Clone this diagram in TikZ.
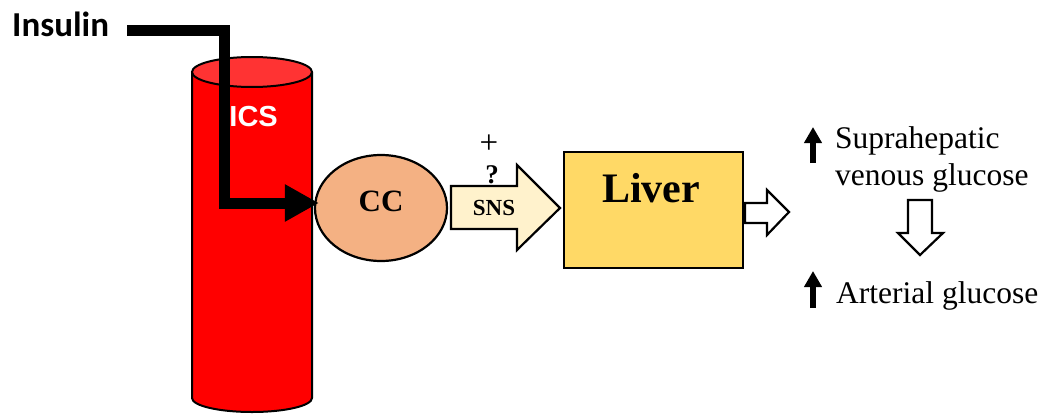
\documentclass[tikz,border=0pt]{standalone}
\usepackage{fontspec}
\setmainfont{Liberation Serif}
\newfontfamily\carl{Carlito}
\newfontfamily\arialf{Liberation Sans}
\usetikzlibrary{arrows.meta,shapes.geometric}
\definecolor{cylred}{HTML}{FF0000}
\definecolor{cyltop}{HTML}{FF3333}
\definecolor{ccfill}{HTML}{F4B183}
\definecolor{snsfill}{HTML}{FFF2CC}
\definecolor{liverfill}{HTML}{FFD966}
\tikzset{
  outl/.style={draw=black, line width=2.2pt, line join=miter},
  insline/.style={line width=11pt, line join=miter, -{Triangle[length=34pt,width=35pt]}},
  uparr/.style={line width=5.5pt, -{Triangle[length=16pt,width=17pt]}},
  rtext/.style={inner sep=0pt, font=\fontsize{31.5}{36}\selectfont},
}
\begin{document}
\begin{tikzpicture}[x=1pt,y=-1pt]
\useasboundingbox (0,0) rectangle (1046,415);
% cylinder
\fill[cylred] (192,72) rectangle (312,398);
\fill[cylred] (252,398) ellipse [x radius=60pt, y radius=14pt];
\draw[line width=2pt] (192,72) -- (192,398) arc[start angle=180, end angle=360, x radius=60pt, y radius=14pt] -- (312,72);
\draw[line width=2pt, fill=cyltop] (252,72) ellipse [x radius=60pt, y radius=15pt];
\node[inner sep=0pt, anchor=base east, text=white, font=\arialf\bfseries\fontsize{29}{34}\selectfont] (ics) at (278,126) {ICS};
% insulin
\node[inner sep=0pt, anchor=base west, font=\carl\bfseries\fontsize{35}{42}\selectfont] (ins) at (12,36) {Insulin};
\node[ellipse, draw=black, line width=2.2pt, fill=ccfill, minimum width=132pt, minimum height=106pt, inner sep=0pt] (cc) at (381,208) {};
\node[inner sep=0pt, anchor=base, font=\bfseries\fontsize{31}{36}\selectfont] (cct) at (381,211) {CC};
\coordinate (i0) at (127,30);
\coordinate (i1) at (224,30);
\coordinate (i2) at (224,203);
\draw[insline] (i0) -- (i1) -- (i2) -- ([xshift=5pt]i2 -| cc.west);
% SNS arrow
\draw[outl, fill=snsfill] (451,186) -- (517,186) -- (517,165) -- (560,208) -- (517,250) -- (517,229) -- (451,229) -- cycle;
\node[inner sep=0pt, anchor=base, font=\bfseries\fontsize{23}{26}\selectfont] (sns) at (494,215) {SNS};
\node[inner sep=0pt, anchor=base, font=\fontsize{33}{36}\selectfont] (plus) at (489,153) {+};
\node[inner sep=0pt, anchor=base, font=\bfseries\fontsize{27}{30}\selectfont] (q) at (492,183) {?};
% liver
\node[outl, fill=liverfill, minimum width=179pt, minimum height=116pt, inner sep=0pt, anchor=north west] (liver) at (563,151) {};
\node[inner sep=0pt, anchor=base, font=\bfseries\fontsize{42}{50}\selectfont] (livert) at (651,202) {Liver};
% outline arrows
\draw[outl, fill=white] (745,203) -- (767,203) -- (767,190) -- (789,212) -- (767,235) -- (767,223) -- (745,223) -- cycle;
\draw[outl, fill=white] (908,200) -- (932,200) -- (932,233) -- (943,233) -- (920,255) -- (898,233) -- (908,233) -- cycle;
% texts
\node[rtext, anchor=base west] (t1) at (835,148) {Suprahepatic};
\node[rtext, anchor=base west] (t2) at (835,185) {venous glucose};
\node[rtext, anchor=base west] (t3) at (836,303) {Arterial glucose};
\coordinate (u1) at (813,163);
\coordinate (u2) at (813,308);
\draw[uparr] (u1) -- (813,127);
\draw[uparr] (u2) -- (813,271);
\end{tikzpicture}
\end{document}
